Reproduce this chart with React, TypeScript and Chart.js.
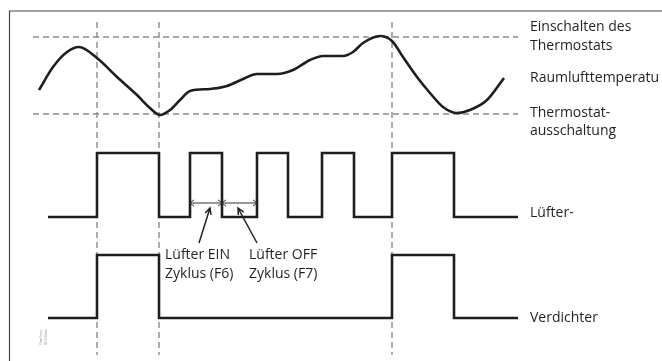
import React, { useEffect, useRef } from "react";
import { Chart, registerables } from "chart.js";

Chart.register(...registerables);

// Room air temperature curve (time, level)
const temperatureTime = [39, 53, 67, 79, 97, 117, 137, 150, 160, 170, 180, 190, 210, 227, 243, 257, 277, 293, 310, 323, 343, 353, 363, 380, 392, 403, 417, 430, 443, 457, 470, 487, 504];
const temperatureLevel = [90, 67, 52, 47, 58, 77, 95, 108, 115, 110, 100, 91, 89, 86, 79, 74, 74, 70, 60, 56, 56, 52, 43, 36, 41, 57, 77, 93, 107, 113, 110, 100, 78];

// Thermostat thresholds
const cutInLevel = 37;
const cutOutLevel = 114;
const thresholdSpan = [33, 518];

// Vertical event markers
const markerTimes = [97, 159, 392];
const markerSpan = [22, 355];

// Fan signal
const fanStart = 48;
const fanEnd = 518;
const fanSwitchTimes = [97, 159, 190, 222, 257, 288, 322, 354, 392, 454];
const fanLow = 217;
const fanHigh = 153;

// Compressor signal
const compStart = 48;
const compEnd = 518;
const compSwitchTimes = [97, 159, 392, 454];
const compLow = 318;
const compHigh = 255;

// Frame
const frameTop = 11;
const frameLeft = 9.5;

// Cycle dimension arrows
const cycleArrowLevel = 203;
const cycleArrowRanges = [[190, 222], [222, 257]];
const pointerLines = [[210, 208, 199, 243], [238, 208, 257, 243]];

// Text labels
const labelTexts = ["Einschalten des", "Thermostats", "Raumlufttemperatu", "Thermostat-", "ausschaltung", "Lüfter-", "Verdichter", "Lüfter EIN", "Zyklus (F6)", "Lüfter OFF", "Zyklus (F7)"];
const labelTimes = [530, 530, 530, 530, 530, 530, 530, 165, 165, 249, 249];
const labelLevels = [27, 46, 78, 113, 131, 213, 318, 255, 274, 255, 274];

const watermarkTexts = ["Danfoss", "80G8xxx"];

function stepPoints(start: number, end: number, switches: number[], low: number, high: number) {
  const pts: { x: number; y: number }[] = [{ x: start, y: low }];
  let cur = low;
  for (const t of switches) {
    pts.push({ x: t, y: cur });
    cur = cur === low ? high : low;
    pts.push({ x: t, y: cur });
  }
  pts.push({ x: end, y: cur });
  return pts;
}

export default function App() {
  const ref = useRef<HTMLCanvasElement | null>(null);

  useEffect(() => {
    document.body.style.margin = "0";
    const canvas = ref.current;
    if (!canvas) return;

    const font = '"Open Sans", "DejaVu Sans", sans-serif';

    const overlay = {
      id: "overlay",
      afterDatasetsDraw(chart: any) {
        const { ctx, scales } = chart;
        const xs = scales.x;
        const ys = scales.y;
        const px = (v: number) => xs.getPixelForValue(v);
        const py = (v: number) => ys.getPixelForValue(v);
        ctx.save();
        // cycle arrows
        ctx.strokeStyle = "#333";
        ctx.lineWidth = 1;
        const head = 4;
        for (const [a, b] of cycleArrowRanges) {
          const y = py(cycleArrowLevel);
          const x1 = px(a);
          const x2 = px(b);
          ctx.beginPath();
          ctx.moveTo(x1, y);
          ctx.lineTo(x2, y);
          ctx.moveTo(x1 + head, y - head * 0.8);
          ctx.lineTo(x1, y);
          ctx.lineTo(x1 + head, y + head * 0.8);
          ctx.moveTo(x2 - head, y - head * 0.8);
          ctx.lineTo(x2, y);
          ctx.lineTo(x2 - head, y + head * 0.8);
          ctx.stroke();
        }
        // pointer lines
        ctx.lineWidth = 1.5;
        ctx.strokeStyle = "#222";
        for (const [xa, ya, xb, yb] of pointerLines) {
          const x1 = px(xa), y1 = py(ya), x2 = px(xb), y2 = py(yb);
          const ang = Math.atan2(y1 - y2, x1 - x2);
          const h = 7;
          ctx.beginPath();
          ctx.moveTo(x2, y2);
          ctx.lineTo(x1, y1);
          ctx.moveTo(x1 - h * Math.cos(ang - 0.45), y1 - h * Math.sin(ang - 0.45));
          ctx.lineTo(x1, y1);
          ctx.lineTo(x1 - h * Math.cos(ang + 0.45), y1 - h * Math.sin(ang + 0.45));
          ctx.stroke();
        }
        // labels
        ctx.fillStyle = "#231f20";
        ctx.font = `14px ${font}`;
        ctx.textBaseline = "middle";
        ctx.textAlign = "left";
        labelTexts.forEach((t, i) => {
          ctx.fillText(t, px(labelTimes[i]), py(labelLevels[i]));
        });
        // watermark
        ctx.fillStyle = "#999";
        ctx.font = `4px ${font}`;
        ctx.translate(px(41), py(345));
        ctx.rotate(-Math.PI / 2);
        watermarkTexts.forEach((t, i) => {
          ctx.fillText(t, 0, i * 4.5);
        });
        ctx.restore();
      },
    };

    const dash = [6, 4];
    const dashColor = "#8a8a8a";

    const datasets: any[] = [
      {
        label: "Raumlufttemperatur",
        data: temperatureTime.map((t, i) => ({ x: t, y: temperatureLevel[i] })),
        borderColor: "#1e1e1e",
        borderWidth: 2.6,
        cubicInterpolationMode: "monotone",
        pointRadius: 0,
        order: 0,
      },
      {
        label: "Lüfter",
        data: stepPoints(fanStart, fanEnd, fanSwitchTimes, fanLow, fanHigh),
        borderColor: "#1e1e1e",
        borderWidth: 2.6,
        borderJoinStyle: "miter",
        borderCapStyle: "butt",
        tension: 0,
        pointRadius: 0,
        order: 0,
      },
      {
        label: "Verdichter",
        data: stepPoints(compStart, compEnd, compSwitchTimes, compLow, compHigh),
        borderColor: "#1e1e1e",
        borderWidth: 2.6,
        borderJoinStyle: "miter",
        borderCapStyle: "butt",
        tension: 0,
        pointRadius: 0,
        order: 0,
      },
      ...[cutInLevel, cutOutLevel].map((lvl) => ({
        label: "threshold",
        data: [{ x: thresholdSpan[0], y: lvl }, { x: thresholdSpan[1], y: lvl }],
        borderColor: dashColor,
        borderWidth: 1.4,
        borderDash: dash,
        pointRadius: 0,
        order: 1,
      })),
      ...markerTimes.map((t) => ({
        label: "marker",
        data: [{ x: t, y: markerSpan[0] }, { x: t, y: markerSpan[1] }],
        borderColor: dashColor,
        borderWidth: 1.4,
        borderDash: dash,
        pointRadius: 0,
        order: 1,
      })),
      {
        label: "frame",
        data: [{ x: frameLeft, y: 361 }, { x: frameLeft, y: frameTop }, { x: 662, y: frameTop }],
        borderColor: "#444",
        borderWidth: 1.2,
        pointRadius: 0,
        borderJoinStyle: "miter",
        order: 2,
      },
    ];

    const chart = new Chart(canvas, {
      type: "line",
      data: { datasets },
      options: {
        animation: false,
        responsive: false,
        devicePixelRatio: 1,
        parsing: false,
        layout: { padding: 0 },
        plugins: { legend: { display: false }, tooltip: { enabled: false } },
        scales: {
          x: { type: "linear", min: 0, max: 662, display: false },
          y: { type: "linear", min: 0, max: 361, reverse: true, display: false },
        },
        elements: { line: { fill: false } },
      } as any,
      plugins: [overlay],
    });

    return () => chart.destroy();
  }, []);

  return (
    <div style={{ width: 662, height: 361, background: "#fff" }}>
      <canvas ref={ref} width={662} height={361} style={{ display: "block" }} />
    </div>
  );
}
